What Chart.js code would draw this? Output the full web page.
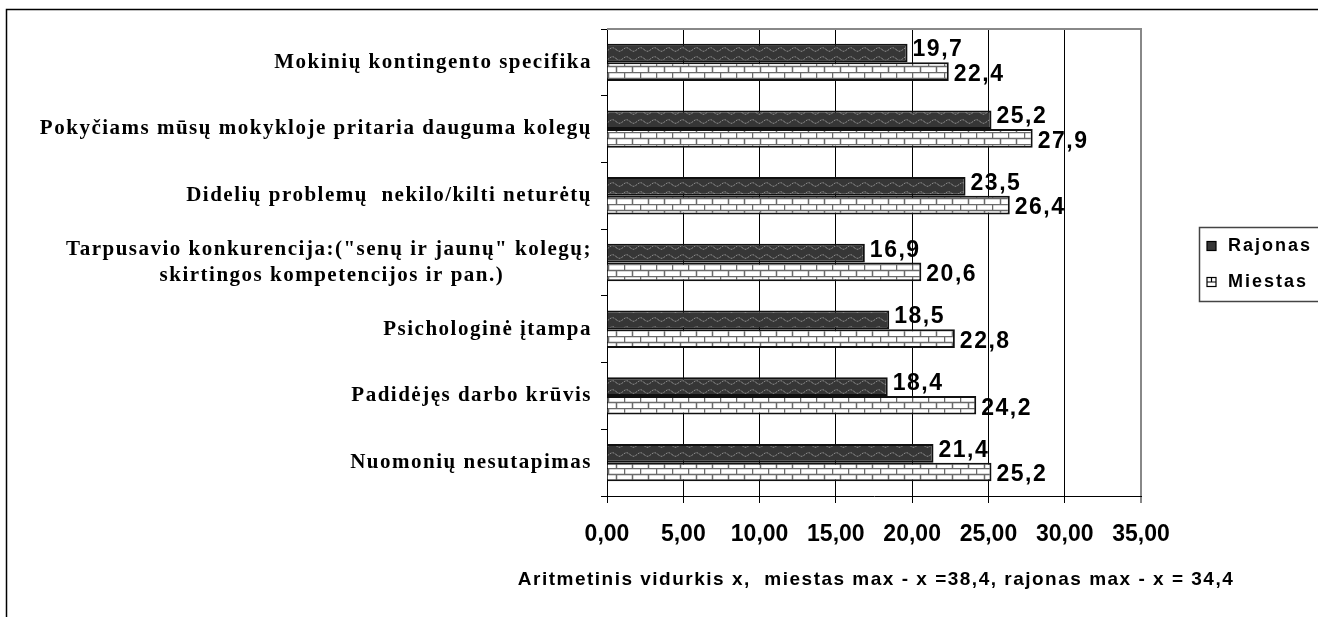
<!DOCTYPE html>
<html lang="lt">
<head>
    <meta charset="UTF-8">
    <title>Aritmetinis vidurkis</title>
    <script src="https://cdn.jsdelivr.net/npm/chart.js"></script>
    <style>
        body { margin: 0; background: #fff; }
        #wrap { width: 1318px; height: 617px; }
    </style>
</head>
<body>
    <div id="wrap"><canvas id="chart" width="1318" height="617"></canvas></div>

    <script>
        // data
        const categories = [
            'Mokinių kontingento specifika',
            'Pokyčiams mūsų mokykloje pritaria dauguma kolegų',
            'Didelių problemų  nekilo/kilti neturėtų',
            ['Tarpusavio konkurencija:("senų ir jaunų" kolegų;', 'skirtingos kompetencijos ir pan.)'],
            'Psichologinė įtampa',
            'Padidėjęs darbo krūvis',
            'Nuomonių nesutapimas'
        ];
        const rajonas = [19.7, 25.2, 23.5, 16.9, 18.5, 18.4, 21.4];
        const miestas = [22.4, 27.9, 26.4, 20.6, 22.8, 24.2, 25.2];
        const seriesNames = ['Rajonas', 'Miestas'];
        const xTicks = [0, 5, 10, 15, 20, 25, 30, 35];
        const axisTitle = 'Aritmetinis vidurkis x,  miestas max - x =38,4, rajonas max - x = 34,4';

        const serifFont = '"Liberation Serif", "Times New Roman", serif';
        const sansFont = '"Liberation Sans", Arial, sans-serif';
        const catFont = { family: serifFont, weight: 'bold', size: 21 };
        const catSpacing = 1.5;

        const ctx = document.getElementById('chart').getContext('2d');

        // fill patterns
        function wavePattern() {
            const c = document.createElement('canvas');
            c.width = 14; c.height = 9;
            const g = c.getContext('2d');
            g.fillStyle = '#363636';
            g.fillRect(0, 0, 14, 9);
            g.strokeStyle = '#8e8e8e';
            g.lineWidth = 1;
            g.setLineDash([2, 1]);
            g.beginPath();
            for (let x = 0; x <= 14; x++) {
                const y = 4.5 + 1.8 * Math.sin(x / 14 * 2 * Math.PI);
                if (x === 0) g.moveTo(x, y); else g.lineTo(x, y);
            }
            g.stroke();
            return ctx.createPattern(c, 'repeat');
        }
        function brickPattern() {
            const c = document.createElement('canvas');
            c.width = 16; c.height = 12;
            const g = c.getContext('2d');
            g.fillStyle = '#fff';
            g.fillRect(0, 0, 16, 12);
            g.strokeStyle = '#6a6a6a';
            g.lineWidth = 1.5;
            g.beginPath();
            g.moveTo(0, 0.5); g.lineTo(16, 0.5);
            g.moveTo(0, 6.5); g.lineTo(16, 6.5);
            g.moveTo(0.5, 0); g.lineTo(0.5, 6.5);
            g.moveTo(8.5, 6.5); g.lineTo(8.5, 12);
            g.stroke();
            return ctx.createPattern(c, 'repeat');
        }

        // centre the second line of a two-line label under the first one
        function padLabels(list) {
            const m = document.createElement('canvas').getContext('2d');
            m.font = 'bold ' + catFont.size + 'px ' + serifFont;
            m.letterSpacing = catSpacing + 'px';
            const sp = m.measureText(' ').width;
            return list.map(l => {
                if (!Array.isArray(l)) return l;
                const w0 = m.measureText(l[0]).width;
                const w1 = m.measureText(l[1]).width;
                const n = Math.max(0, Math.round((w0 - w1) / 2 / sp));
                return [l[0], l[1] + ' '.repeat(n)];
            });
        }

        const decor = {
            id: 'decor',
            beforeDraw(chart) {
                const y = chart.scales.y;
                if (!y._spaced) {
                    const orig = y.drawLabels.bind(y);
                    y.drawLabels = function (area) {
                        chart.ctx.letterSpacing = catSpacing + 'px';
                        orig(area);
                        chart.ctx.letterSpacing = '0px';
                    };
                    y._spaced = true;
                }
            },
            afterDraw(chart) {
                const c = chart.ctx, a = chart.chartArea;
                c.save();
                // outer frame
                c.strokeStyle = '#000';
                c.lineWidth = 1.5;
                c.beginPath();
                c.moveTo(6.5, 640); c.lineTo(6.5, 9.5); c.lineTo(1330, 9.5);
                c.stroke();
                // top border of plot area
                c.strokeStyle = '#888';
                c.lineWidth = 2;
                c.beginPath();
                c.moveTo(a.left, a.top); c.lineTo(a.right + 1, a.top);
                c.stroke();

                // value labels
                c.fillStyle = '#000';
                c.font = 'bold 23px ' + sansFont;
                c.letterSpacing = '1.5px';
                c.textAlign = 'left';
                c.textBaseline = 'middle';
                chart.data.datasets.forEach((ds, i) => {
                    chart.getDatasetMeta(i).data.forEach((bar, j) => {
                        const txt = ds.data[j].toFixed(1).replace('.', ',');
                        c.fillText(txt, bar.x + 5, bar.y + (i === 0 ? -3 : 3));
                    });
                });

                // x axis title (wider than the plot, so drawn here)
                c.font = 'bold 19px ' + sansFont;
                c.letterSpacing = '1.5px';
                c.textAlign = 'center';
                c.fillText(axisTitle, 876, 580);

                // legend
                const lx = 1199, ly = 227, lh = 74;
                c.textAlign = 'left';
                c.strokeStyle = '#444';
                c.lineWidth = 1.5;
                c.strokeRect(lx + 0.5, ly + 0.5, 200, lh);
                c.font = 'bold 18px ' + sansFont;
                c.letterSpacing = '2px';
                chart.data.datasets.forEach((ds, i) => {
                    const cy = ly + 19 + i * 36;
                    const bx = 1207, bs = 9;
                    c.fillStyle = i === 0 ? '#363636' : '#fff';
                    c.fillRect(bx, cy - bs / 2, bs, bs);
                    c.strokeStyle = '#000';
                    c.lineWidth = 1.2;
                    c.strokeRect(bx, cy - bs / 2, bs, bs);
                    if (i === 1) {
                        c.beginPath();
                        c.moveTo(bx, cy); c.lineTo(bx + bs, cy);
                        c.moveTo(bx + bs / 2, cy - bs / 2); c.lineTo(bx + bs / 2, cy);
                        c.stroke();
                    }
                    c.fillStyle = '#000';
                    c.fillText(ds.label, 1228, cy);
                });
                c.restore();
            }
        };

        const chart = new Chart(ctx, {
            type: 'bar',
            data: {
                labels: padLabels(categories),
                datasets: [
                    { label: seriesNames[0], data: rajonas, backgroundColor: wavePattern(), borderColor: '#111', borderWidth: 2 },
                    { label: seriesNames[1], data: miestas, backgroundColor: brickPattern(), borderColor: '#111', borderWidth: 2 }
                ]
            },
            options: {
                indexAxis: 'y',
                responsive: false,
                animation: false,
                categoryPercentage: 0.56,
                barPercentage: 1,
                layout: { padding: { top: 29, right: 177, left: 0, bottom: 0 } },
                plugins: { legend: { display: false }, tooltip: { enabled: false } },
                scales: {
                    x: {
                        min: 0,
                        max: 35,
                        afterBuildTicks: s => { s.ticks = xTicks.map(v => ({ value: v })); },
                        afterFit: s => { s.height = 121; },
                        ticks: {
                            callback: v => v.toFixed(2).replace('.', ','),
                            color: '#000',
                            font: { family: sansFont, weight: 'bold', size: 23 },
                            padding: 18,
                            maxRotation: 0,
                            autoSkip: false
                        },
                        grid: {
                            color: c => (c.tick && c.tick.value === 35 ? '#888' : '#000'),
                            lineWidth: c => (c.tick && c.tick.value === 35 ? 2 : 1),
                            tickLength: 7
                        },
                        border: { color: '#000', width: 1 }
                    },
                    y: {
                        afterFit: s => { s.width = 607; },
                        ticks: { color: '#000', font: catFont, padding: 9, autoSkip: false },
                        grid: { drawOnChartArea: false, tickLength: 6, color: '#000' },
                        border: { color: '#000', width: 1 }
                    }
                }
            },
            plugins: [decor]
        });
    </script>
</body>
</html>
